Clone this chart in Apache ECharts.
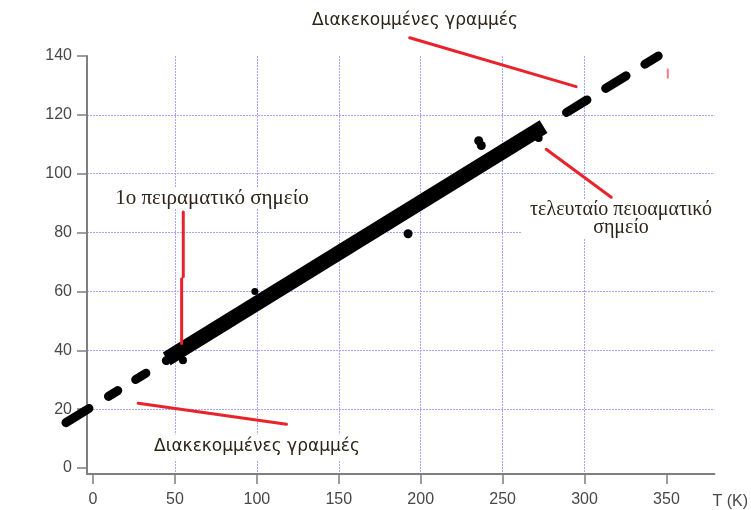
<!DOCTYPE html>
<html>
<head>
<meta charset="utf-8">
<title>P - T</title>
<script src="https://cdn.jsdelivr.net/npm/echarts@6/dist/echarts.min.js"></script>
<style>
  html, body { margin: 0; padding: 0; background: #ffffff; }
  #chart { width: 751px; height: 510px; }
</style>
</head>
<body>
<div id="chart"></div>
<script>
// Tick labels of both axes
const temperatureTicks = [0, 50, 100, 150, 200, 250, 300, 350];
const pressureTicks = [0, 20, 40, 60, 80, 100, 120, 140];

// Straight line through the measurements: dashed extrapolations and the measured (solid) stretch
const fitDashLow = [[-16.5, 16.0], [45, 37.1]];
const fitSolid = [[45, 37.1], [275, 116.0]];
const fitDashHigh = [[289, 120.8], [345, 140.0]];

// Individual points lying off the line: T (K), P (kPa), dot diameter
const strayPoints = [
  [54.9, 36.6, 8], [98.8, 60.0, 7], [117, 63.3, 5], [192.3, 79.6, 9],
  [235.4, 111.2, 9], [237.0, 109.6, 9], [272, 112.1, 8]
];

// Red pointer strokes towards the annotated parts of the line
const pointerTopDash = [[193.3, 146.2], [294.9, 129.6]];
const pointerBottomDash = [[27.6, 22.0], [118.1, 14.9]];
const pointerFirstUpper = [[55.1, 87.0], [55.1, 65.0]];
const pointerFirstLower = [[54.1, 64.3], [54.1, 42.3]];
const pointerLast = [[276.6, 108.3], [316.3, 92.0]];
const pointerTick = [[350.8, 135.4], [350.8, 132.6]];

const chart = echarts.init(document.getElementById('chart'), null, { renderer: 'canvas' });

const axisGray = '#7f7f7f';
const labelGray = '#484848';
const gridBlue = '#a6a6ff';
const pointerRed = '#e8232b';
const sansFont = '"Liberation Sans", Arial, sans-serif';
const serifFont = '"Liberation Serif", "Times New Roman", serif';
const noteInk = '#2e2418';

// Shared value ranges; the second (wider, hidden) grid keeps the same px-per-unit
// so the low extrapolation can run past the left axis line.
const tMin = -3.66, tMax = 379.3, pMin = -2.03, pMax = 140;
const gridLeft = 87, gridRight = 36, gridTop = 56, gridBottom = 34;
const pxPerK = (751 - gridLeft - gridRight) / (tMax - tMin);
const extraLeft = 40;

function pointer(data, width, color) {
  return {
    type: 'line', data: data, symbol: 'none', clip: false, silent: true, z: 4,
    lineStyle: { color: color || pointerRed, width: width || 3, cap: 'round' }
  };
}

const option = {
  backgroundColor: '#ffffff',
  animation: false,
  grid: [
    { left: gridLeft, right: gridRight, top: gridTop, bottom: gridBottom, containLabel: false },
    { left: gridLeft - extraLeft, right: gridRight, top: gridTop, bottom: gridBottom, containLabel: false }
  ],
  xAxis: [
    {
      type: 'value',
      gridIndex: 0,
      min: tMin,
      max: tMax,
      splitNumber: 8,
      name: 'T (K)',
      nameLocation: 'end',
      nameGap: -2,
      nameTextStyle: {
        color: labelGray, fontFamily: sansFont, fontSize: 16,
        align: 'left', verticalAlign: 'top', padding: [20, 0, 0, 0]
      },
      axisLine: { show: true, onZero: false, lineStyle: { color: axisGray, width: 2 } },
      axisTick: {
        show: true, customValues: temperatureTicks, length: 10, inside: false,
        lineStyle: { color: axisGray, width: 1.5 }
      },
      axisLabel: {
        customValues: temperatureTicks, margin: 18, color: labelGray,
        fontFamily: sansFont, fontSize: 16
      },
      splitLine: {
        show: true, showMinLine: false, showMaxLine: false,
        lineStyle: { color: gridBlue, width: 1, type: [2, 1] }
      }
    },
    {
      type: 'value',
      gridIndex: 1,
      min: tMin - extraLeft / pxPerK,
      max: tMax,
      show: false
    }
  ],
  yAxis: [
    {
      type: 'value',
      gridIndex: 0,
      min: pMin,
      max: pMax,
      splitNumber: 7,
      axisLine: { show: true, onZero: false, lineStyle: { color: axisGray, width: 2 } },
      axisTick: {
        show: true, customValues: pressureTicks, length: 10, inside: false,
        lineStyle: { color: axisGray, width: 1.5 }
      },
      axisLabel: {
        customValues: pressureTicks, margin: 15, color: labelGray,
        fontFamily: sansFont, fontSize: 16
      },
      splitLine: {
        show: true, showMinLine: false, showMaxLine: false,
        lineStyle: { color: gridBlue, width: 1, type: [2, 1] }
      }
    },
    {
      type: 'value',
      gridIndex: 1,
      min: pMin,
      max: pMax,
      show: false
    }
  ],
  graphic: [
    {
      type: 'text', z: 10, rotation: Math.PI / 2,
      style: { text: 'P (kPa)', x: 22, y: 76, align: 'center', verticalAlign: 'middle',
        font: '14px ' + sansFont, fill: labelGray }
    },
    {
      type: 'text', z: 10,
      style: { text: 'Διακεκομμένες γραμμές', x: 415, y: 21, align: 'center', verticalAlign: 'middle',
        font: '17px "DejaVu Sans", sans-serif', fill: noteInk }
    },
    {
      type: 'text', z: 10,
      style: { text: 'Διακεκομμένες γραμμές', x: 257, y: 447, align: 'center', verticalAlign: 'middle',
        font: '17px "DejaVu Sans", sans-serif', fill: noteInk,
        backgroundColor: '#ffffff', padding: [4, 6, 4, 6] }
    },
    {
      type: 'text', z: 10,
      style: { text: '1ο πειραματικό σημείο', x: 212, y: 198, align: 'center', verticalAlign: 'middle',
        font: '21px ' + serifFont, fill: noteInk,
        backgroundColor: '#ffffff', padding: [0, 4, 0, 4] }
    },
    {
      type: 'text', z: 10,
      style: { text: 'τελευταίο πειοαματικό\nσημείο', x: 621, y: 219, align: 'center', verticalAlign: 'middle',
        font: '20px ' + serifFont, lineHeight: 18, fill: noteInk,
        backgroundColor: '#ffffff', padding: [2, 8, 2, 8] }
    }
  ],
  series: [
    {
      name: 'dash-low', type: 'line', xAxisIndex: 1, yAxisIndex: 1,
      data: fitDashLow, symbol: 'none', clip: false, silent: true, z: 3,
      lineStyle: { color: '#000000', width: 9, cap: 'round', type: [27, 23, 11, 21, 12, 24] }
    },
    {
      name: 'dash-high', type: 'line', data: fitDashHigh, symbol: 'none', clip: false, silent: true, z: 3,
      lineStyle: { color: '#000000', width: 9, cap: 'round', type: [24, 22] }
    },
    {
      name: 'measured', type: 'line', data: fitSolid, symbol: 'none', clip: false, silent: true, z: 3,
      lineStyle: { color: '#000000', width: 15, cap: 'butt' }
    },
    {
      name: 'points', type: 'scatter', data: strayPoints, clip: false, silent: true, z: 3,
      symbol: 'circle',
      symbolSize: function (v) { return v[2]; },
      itemStyle: { color: '#000000', opacity: 1 }
    },
    pointer(pointerTopDash),
    pointer(pointerBottomDash),
    pointer(pointerFirstUpper),
    pointer(pointerFirstLower),
    pointer(pointerLast),
    pointer(pointerTick, 2, '#f07a80')
  ]
};

chart.setOption(option);
</script>
</body>
</html>
